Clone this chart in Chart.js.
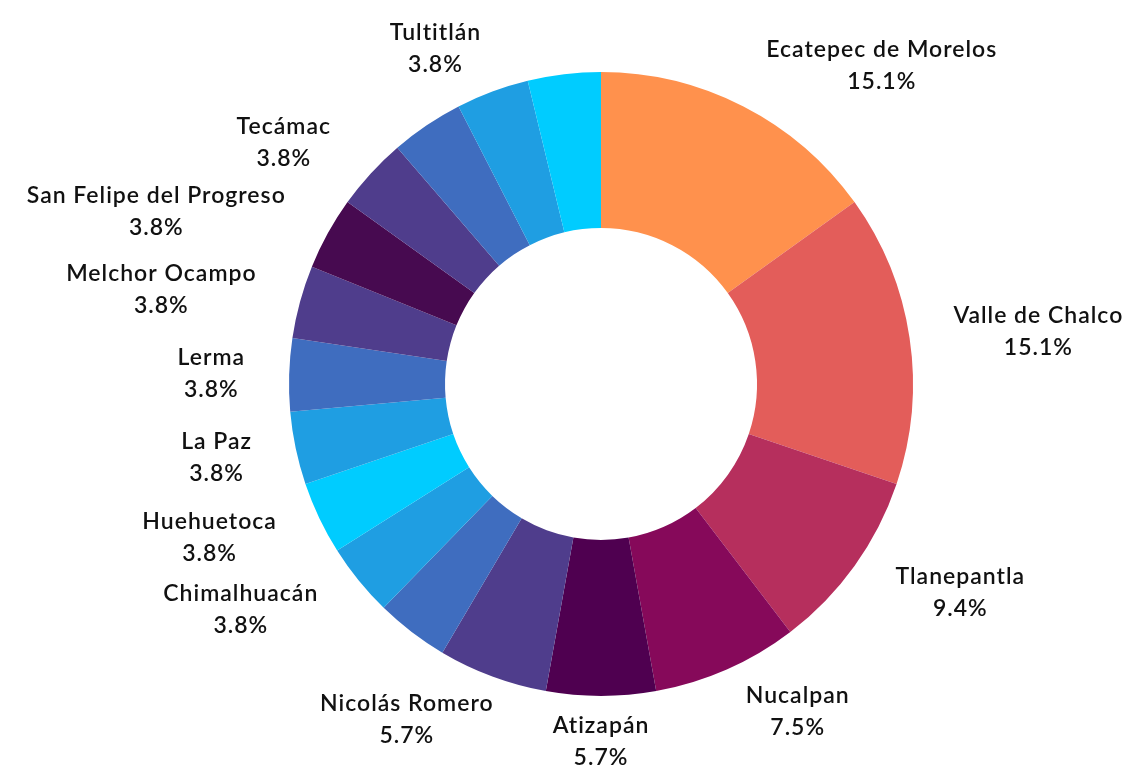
<!DOCTYPE html>
<html>
<head>
<meta charset="utf-8">
<script src="https://cdn.jsdelivr.net/npm/chart.js@4/dist/chart.umd.min.js"></script>
<style>
    html, body { margin: 0; padding: 0; background: #ffffff; }
    #wrap { width: 1148px; height: 770px; }
</style>
</head>
<body>
<div id="wrap"><canvas id="donutChart" width="1148" height="770"></canvas></div>
<script>
// Municipios (los sin nombre no muestran etiqueta en la imagen original)
const municipios = [
    'Ecatepec de Morelos', 'Valle de Chalco', 'Tlanepantla', 'Nucalpan',
    'Atizapán', 'Nicolás Romero', '', 'Chimalhuacán', 'Huehuetoca', 'La Paz',
    'Lerma', 'Melchor Ocampo', 'San Felipe del Progreso', 'Tecámac', '',
    'Tultitlán', ''
];
const conteos = [8, 8, 5, 4, 3, 3, 2, 2, 2, 2, 2, 2, 2, 2, 2, 2, 2];
const colores = [
    '#FF914D', '#E35D5A', '#B62F5D', '#86095A', '#4F0050', '#4F3D8C',
    '#3F6DBF', '#1F9EE2', '#00CCFF', '#1F9EE2', '#3F6DBF', '#4F3D8C',
    '#470A50', '#4F3D8C', '#3F6DBF', '#1F9EE2', '#00CCFF'
];

const total = conteos.reduce((a, b) => a + b, 0);

// Etiquetas fuera del anillo: nombre + porcentaje
const outsideLabels = {
    id: 'outsideLabels',
    afterDatasetsDraw(chart) {
        const ctx = chart.ctx;
        const arcs = chart.getDatasetMeta(0).data;
        ctx.save();
        ctx.font = "600 23px Lato, Inter, sans-serif";
        ctx.letterSpacing = '1px';
        ctx.fillStyle = '#111111';
        ctx.textAlign = 'center';
        ctx.textBaseline = 'middle';
        arcs.forEach((arc, i) => {
            const name = municipios[i];
            if (!name) return;
            const pct = (conteos[i] / total * 100).toFixed(1) + '%';
            const mid = (arc.startAngle + arc.endAngle) / 2;
            const vx = Math.cos(mid), vy = Math.sin(mid);
            const r = arc.outerRadius + 16;
            const ax = arc.x + vx * r;
            const ay = arc.y + vy * r;
            const w = Math.max(ctx.measureText(name).width, ctx.measureText(pct).width);
            const h = 60;
            const sx = Math.max(-1, Math.min(1, vx * 2));
            const cx = ax + sx * (w / 2 + 28);
            const cy = ay + vy * h / 2;
            ctx.fillText(name, cx, cy - 16);
            ctx.fillText(pct, cx, cy + 16);
        });
        ctx.restore();
    }
};

const ctx = document.getElementById('donutChart').getContext('2d');
new Chart(ctx, {
    type: 'doughnut',
    data: {
        labels: municipios,
        datasets: [{
            data: conteos,
            backgroundColor: colores,
            borderWidth: 0,
            hoverOffset: 0,
            offset: 0
        }]
    },
    options: {
        responsive: false,
        animation: false,
        cutout: '50%',
        layout: { padding: { left: 289, right: 235, top: 72, bottom: 74 } },
        plugins: {
            legend: { display: false },
            tooltip: { enabled: false }
        }
    },
    plugins: [outsideLabels]
});
</script>
</body>
</html>
